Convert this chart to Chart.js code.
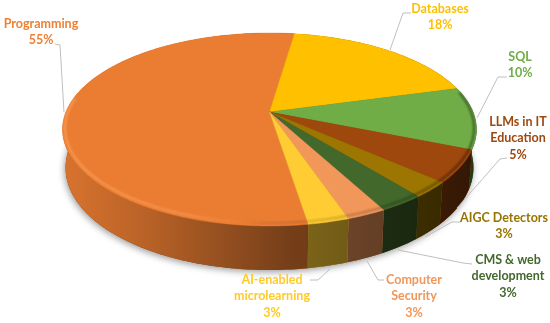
<!DOCTYPE html>
<html>
<head>
<meta charset="utf-8">
<title>Topics</title>
<script src="https://cdn.jsdelivr.net/npm/chart.js@4"></script>
<style>
    html, body { margin: 0; padding: 0; background: #fff; }
    canvas { display: block; }
</style>
</head>
<body>
<canvas id="pieChart" width="550" height="323"></canvas>
<script>
const categories = ['Programming', 'Databases', 'SQL', 'LLMs in IT Education', 'AIGC Detectors',
    'CMS & web development', 'Computer Security', 'AI-enabled microlearning'];
const values = [54.7, 18.4, 10.4, 5.4, 2.6, 3.0, 2.6, 2.7];
const colors = ['#EB7D32', '#FFC000', '#70AD47', '#9E480E', '#9C7600', '#43682B', '#F1975A', '#FFCD33'];
const textColors = ['#F07F32', '#FFC000', '#70AD47', '#9E480E', '#997300', '#43682B', '#F1975A', '#FFCA28'];

const labelLines = [['Programming'], ['Databases'], ['SQL'], ['LLMs in IT', 'Education'], ['AIGC Detectors'],
    ['CMS & web', 'development'], ['Computer', 'Security'], ['AI-enabled', 'microlearning']];

// label centre x, first line y
const labelPos = [[41, 24], [440, 9], [520, 57], [518, 122], [504, 218], [508, 260], [414, 280], [272, 280]];
const leaders = [
    [[55, 44], [60, 45], [64, 112]],
    [[411, 13], [403, 13], [390, 50]],
    [[507, 77], [498, 77], [477, 118]],
    [[507, 158], [500, 159], [457, 208]],
    [[461, 222], [452, 222], [425, 237]],
    [[472, 264], [463, 263], [398, 250]],
    [[384, 280], [378, 280], [367, 261]],
    [[310, 280], [318, 280], [330, 269]]
];

// projection of the flat pie onto the tilted disc
const CX = 269.5, APEX_Y = 112, PERSP = -0.1813, RY = 73, RX = 203.6;
const DEG = Math.PI / 180;

function topPoint(a) {
    const u = Math.cos(a), v = Math.sin(a), w = 1 + PERSP * v;
    return [CX + RX * u / w, (RY * v + APEX_Y) / w];
}

function bottomPoint(a) {
    const p = topPoint(a);
    return [CX + (p[0] - CX) * 0.985, p[1] + 37 + 7 * Math.sin(a)];
}

function rimAngles(a0, a1) {
    const list = [];
    const n = Math.max(2, Math.ceil((a1 - a0) / DEG));
    for (let i = 0; i <= n; i++) list.push(a0 + (a1 - a0) * i / n);
    return list;
}

function wallShade(ctx) {
    const g = ctx.createLinearGradient(62, 0, 476, 0);
    g.addColorStop(0, 'rgba(0,0,0,0.08)');
    g.addColorStop(0.21, 'rgba(0,0,0,0.22)');
    g.addColorStop(0.55, 'rgba(0,0,0,0.5)');
    g.addColorStop(0.7, 'rgba(0,0,0,0.56)');
    g.addColorStop(0.87, 'rgba(0,0,0,0.62)');
    g.addColorStop(1, 'rgba(0,0,0,0.68)');
    return g;
}

function rimShade(ctx) {
    const g = ctx.createLinearGradient(62, 0, 476, 0);
    g.addColorStop(0, 'rgba(255,170,105,0.7)');
    g.addColorStop(0.3, 'rgba(255,170,105,0.55)');
    g.addColorStop(0.42, 'rgba(255,170,105,0.1)');
    g.addColorStop(0.5, 'rgba(0,0,0,0.1)');
    g.addColorStop(0.75, 'rgba(0,0,0,0.25)');
    g.addColorStop(1, 'rgba(0,0,0,0.5)');
    return g;
}

function drawPie(chart) {
    const ctx = chart.ctx;
    const arcs = chart.getDatasetMeta(0).data;

    // soft shadow under the whole disc
    ctx.save();
    ctx.shadowColor = 'rgba(0,0,0,0.4)';
    ctx.shadowBlur = 7;
    ctx.shadowOffsetX = -1;
    ctx.shadowOffsetY = 2;
    ctx.fillStyle = '#6b3a15';
    ctx.beginPath();
    rimAngles(0, Math.PI * 2).forEach(a => ctx.lineTo(...bottomPoint(a)));
    ctx.closePath();
    ctx.fill();
    ctx.restore();

    const shade = wallShade(ctx);
    arcs.forEach((arc, i) => {
        const angles = rimAngles(arc.startAngle, arc.endAngle);
        ctx.beginPath();
        angles.forEach(a => ctx.lineTo(...topPoint(a)));
        angles.slice().reverse().forEach(a => ctx.lineTo(...bottomPoint(a)));
        ctx.closePath();
        ctx.fillStyle = colors[i];
        ctx.fill();
        ctx.fillStyle = shade;
        ctx.fill();
    });

    arcs.forEach((arc, i) => {
        ctx.beginPath();
        ctx.moveTo(CX, APEX_Y);
        rimAngles(arc.startAngle, arc.endAngle).forEach(a => ctx.lineTo(...topPoint(a)));
        ctx.closePath();
        ctx.fillStyle = colors[i];
        ctx.strokeStyle = colors[i];
        ctx.lineWidth = 0.4;
        ctx.fill();
        ctx.stroke();
    });

    // bevel along the front rim
    ctx.save();
    ctx.filter = 'blur(1px)';
    ctx.strokeStyle = rimShade(ctx);
    ctx.lineWidth = 2;
    ctx.beginPath();
    rimAngles(-12 * DEG, 188 * DEG).forEach(a => {
        const p = topPoint(a);
        ctx.lineTo(p[0] + (CX - p[0]) * 0.012, p[1] - 1 - 2 * Math.sin(a));
    });
    ctx.stroke();
    ctx.restore();
}

function drawLabels(chart) {
    const ctx = chart.ctx;
    ctx.save();
    ctx.strokeStyle = '#BFBFBF';
    ctx.lineWidth = 1;
    leaders.forEach(pts => {
        ctx.beginPath();
        pts.forEach(p => ctx.lineTo(p[0], p[1]));
        ctx.stroke();
    });
    ctx.font = 'bold 12.5px Lato';
    ctx.textAlign = 'center';
    ctx.textBaseline = 'middle';
    labelLines.forEach((lines, i) => {
        const all = lines.concat(Math.round(values[i]) + '%');
        ctx.fillStyle = textColors[i];
        all.forEach((t, k) => ctx.fillText(t, labelPos[i][0], labelPos[i][1] + k * 16.3));
    });
    ctx.restore();
}

const tiltedPie = {
    id: 'tiltedPie',
    beforeDatasetDraw(chart) {
        drawPie(chart);
        return false;
    },
    afterDraw(chart) {
        drawLabels(chart);
    }
};

new Chart(document.getElementById('pieChart'), {
    type: 'pie',
    data: {
        labels: categories,
        datasets: [{ data: values, backgroundColor: colors, borderWidth: 0 }]
    },
    options: {
        responsive: false,
        animation: false,
        rotation: 171,
        plugins: { legend: { display: false }, tooltip: { enabled: false } }
    },
    plugins: [tiltedPie]
});
</script>
</body>
</html>
